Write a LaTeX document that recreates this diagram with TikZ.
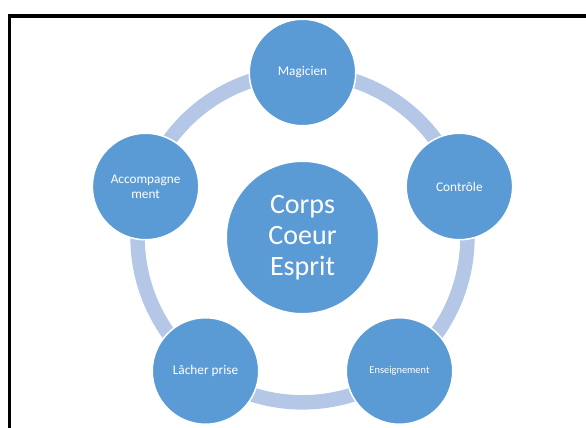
\documentclass[tikz,border=0pt]{standalone}
\usepackage{fontspec}
\setmainfont{Carlito}
\usetikzlibrary{backgrounds}
\definecolor{accent}{HTML}{5B9BD5}
\definecolor{ringblue}{HTML}{B4C7E7}

\begin{document}
\begin{tikzpicture}[x=1pt, y=1pt,
  bubble/.style={circle, fill=accent, draw=white, line width=1.5pt,
    minimum size=106.5pt, inner sep=0pt, text=white, align=center,
    font=\fontsize{13.3}{14.6}\selectfont},
  link/.style={draw=ringblue, line width=14.5pt, bend left=36, looseness=0.94}]
  \useasboundingbox (0,0) rectangle (586,428);

  \node [bubble, minimum size=152.5pt, font=\fontsize{28}{31}\selectfont] (H) at (302.5,190.5) {Corps\\Coeur\\Esprit};
  \node [bubble] (M) at (302.5,355.5) {Magicien};
  \node [bubble] (C) at (459.4,241.5) {Contrôle};
  \node [bubble, font=\fontsize{10.4}{12}\selectfont] (E) at (399.5,57) {Enseignement};
  \node [bubble] (L) at (205.5,57) {Lâcher prise};
  \node [bubble] (A) at (145.6,241.5) {Accompagne\\ment};

  \begin{scope}[on background layer]
    \draw [link] (M.center) to (C.center);
    \draw [link] (C.center) to (E.center);
    \draw [link] (E.center) to (L.center);
    \draw [link] (L.center) to (A.center);
    \draw [link] (A.center) to (M.center);
  \end{scope}

  \draw [line width=3.5pt] (9.25,0) -- (9.25,412.15) -- (586,412.15);
\end{tikzpicture}
\end{document}
